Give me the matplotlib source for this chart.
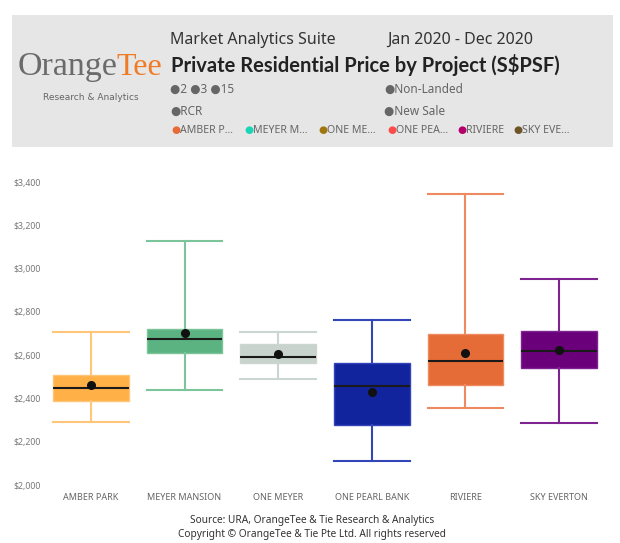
import numpy as np
import matplotlib
matplotlib.use('Agg')
import matplotlib.pyplot as plt
from matplotlib.patches import Rectangle

plt.rcParams['font.family'] = ['Noto Sans', 'DejaVu Sans']

# price stats per project (S$ psf)
projects = ['AMBER PARK', 'MEYER MANSION', 'ONE MEYER', 'ONE PEARL BANK', 'RIVIERE', 'SKY EVERTON']
whislo = [2292, 2439, 2488, 2112, 2357, 2285]
q1     = [2390, 2611, 2565, 2276, 2462, 2539]
med    = [2450, 2676, 2593, 2459, 2573, 2619]
q3     = [2508, 2721, 2650, 2562, 2698, 2713]
whishi = [2708, 3126, 2705, 2762, 3343, 2950]
means  = [2462, 2702, 2604, 2430, 2611, 2622]

box_colors  = ['#FFB047', '#5BB381', '#C9D3CE', '#12239E', '#E66C37', '#6B007B']
line_colors = ['#FFC679', '#7CC49A', '#CCD6D1', '#3346B8', '#EE8A5F', '#7E2490']

yticks = [2000, 2200, 2400, 2600, 2800, 3000, 3200, 3400]

legend_names = ['AMBER P...', 'MEYER M...', 'ONE ME...', 'ONE PEA...', 'RIVIERE', 'SKY EVE...']
legend_colors = ['#E66C37', '#1AD5B5', '#A0760E', '#FD4A4A', '#B5006C', '#6E5426']

W, H = 620, 543
fig = plt.figure(figsize=(W/100, H/100), dpi=100)

def px(x, y):
    return x/W, 1 - y/H

# header panel
fig.patches.append(Rectangle(px(12, 147), (613-12)/W, (147-15)/H,
                             transform=fig.transFigure, facecolor='#E6E6E6',
                             edgecolor='none', zorder=0))

fig.text(*px(18, 75), 'Orange', fontsize=24.5, color='#6B6B6B', family='Liberation Serif',
         va='baseline', ha='left')
fig.text(*px(116, 75), 'Tee', fontsize=23, color='#F07B26', family='Liberation Serif',
         va='baseline', ha='left')
fig.text(*px(91, 97), 'Research & Analytics', fontsize=6.5, color='#666666',
         ha='center', va='center', family='DejaVu Sans')

fig.text(*px(170, 40), 'Market Analytics Suite', fontsize=11.5, color='#333333', va='center')
fig.text(*px(387, 40), 'Jan 2020 - Dec 2020', fontsize=11.5, color='#333333', va='center')
fig.text(*px(171, 65), 'Private Residential Price by Project (S$PSF)', fontsize=14.5,
         fontweight='bold', family='Lato', color='#222222', va='center')

grey = '#666666'
fig.text(*px(170, 89), '\u25cf2 \u25cf3 \u25cf15', fontsize=8.5, color=grey, va='center')
fig.text(*px(384, 89), '\u25cfNon-Landed', fontsize=8.5, color=grey, va='center')
fig.text(*px(170, 111), '\u25cfRCR', fontsize=8.5, color=grey, va='center')
fig.text(*px(384, 111), '\u25cfNew Sale', fontsize=8.5, color=grey, va='center')

lx = [171, 244, 318, 387, 457, 513]
for x, name, c in zip(lx, legend_names, legend_colors):
    fig.text(*px(x, 130), '\u25cf', fontsize=7.5, color=c, va='center')
    fig.text(*px(x + 9, 130), name, fontsize=7.6, color=grey, va='center')

# box plot
ax = fig.add_axes([44/W, (H-485)/H, (606-44)/W, (485-182)/H])
stats = []
for i in range(len(projects)):
    stats.append(dict(label=projects[i], whislo=whislo[i], q1=q1[i], med=med[i],
                      q3=q3[i], whishi=whishi[i], mean=means[i], fliers=[]))
pos = np.arange(len(projects))
bp = ax.bxp(stats, positions=pos, widths=0.81, capwidths=0.81, patch_artist=True,
            showmeans=True, showfliers=False)
for i in range(len(projects)):
    bp['boxes'][i].set(facecolor=box_colors[i], edgecolor=line_colors[i], linewidth=1)
    for w in bp['whiskers'][2*i:2*i+2]:
        w.set(color=line_colors[i], linewidth=1.5)
    for c in bp['caps'][2*i:2*i+2]:
        c.set(color=line_colors[i], linewidth=1.5)
    bp['medians'][i].set(color='#1a1a1a', linewidth=1.5)
    bp['means'][i].set(marker='o', markerfacecolor='#111111', markeredgecolor='#111111',
                       markersize=5.5)

ax.set_xlim(-0.5, len(projects) - 0.5)
ax.set_ylim(2000, 3400)
ax.set_yticks(yticks)
ax.set_yticklabels(['${:,}'.format(v) for v in yticks])
ax.set_xticks(pos)
ax.set_xticklabels(projects)
ax.tick_params(axis='y', length=0, labelsize=6.3, labelcolor='#777777', pad=2)
ax.tick_params(axis='x', length=0, labelsize=6.5, labelcolor='#666666', pad=6)
for s in ax.spines.values():
    s.set_visible(False)

fig.text(*px(312, 520), 'Source: URA, OrangeTee & Tie Research & Analytics', fontsize=7.3,
         color='#333333', ha='center', va='center')
fig.text(*px(312, 535), 'Copyright \u00a9 OrangeTee & Tie Pte Ltd. All rights reserved', fontsize=7.3,
         color='#333333', ha='center', va='center')

fig.savefig('out.png', dpi=100)
